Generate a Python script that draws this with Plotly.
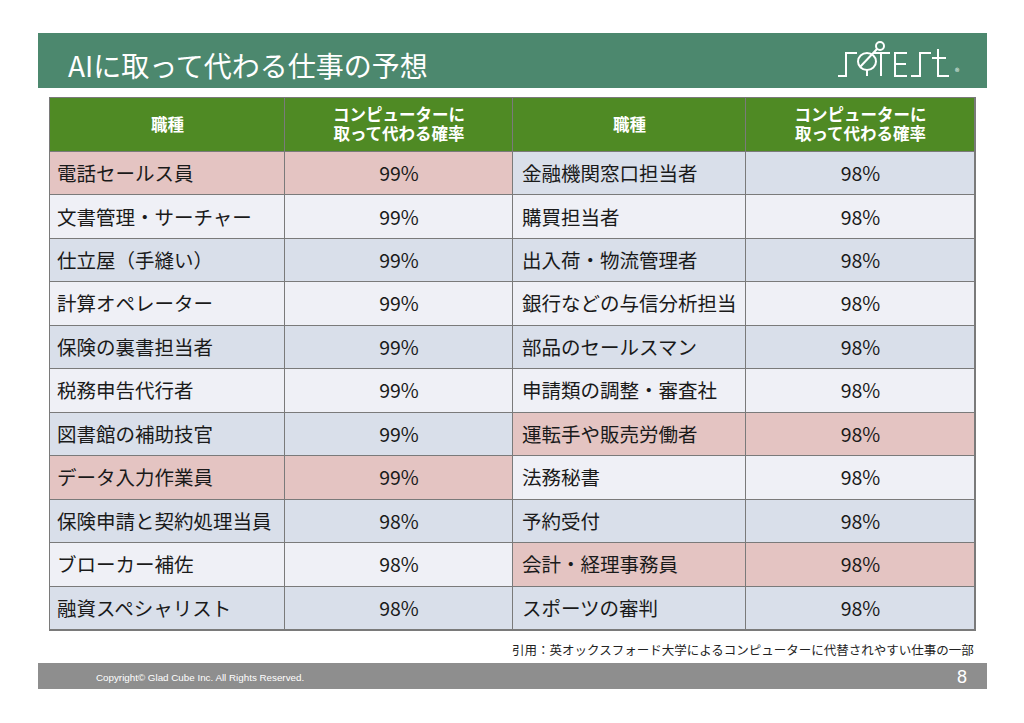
import plotly.graph_objects as go

# ---- data ----
title = "AIに取って代わる仕事の予想"
header_job = "職種"
header_prob_lines = ["コンピューターに", "取って代わる確率"]

left_jobs = ["電話セールス員", "文書管理・サーチャー", "仕立屋（手縫い）", "計算オペレーター",
             "保険の裏書担当者", "税務申告代行者", "図書館の補助技官", "データ入力作業員",
             "保険申請と契約処理当員", "ブローカー補佐", "融資スペシャリスト"]
left_prob = [99, 99, 99, 99, 99, 99, 99, 99, 98, 98, 98]
left_highlight = [1, 0, 0, 0, 0, 0, 0, 1, 0, 0, 0]

right_jobs = ["金融機関窓口担当者", "購買担当者", "出入荷・物流管理者", "銀行などの与信分析担当",
              "部品のセールスマン", "申請類の調整・審査社", "運転手や販売労働者", "法務秘書",
              "予約受付", "会計・経理事務員", "スポーツの審判"]
right_prob = [98, 98, 98, 98, 98, 98, 98, 98, 98, 98, 98]
right_highlight = [0, 0, 0, 0, 0, 0, 1, 0, 0, 1, 0]

citation = "引用：英オックスフォード大学によるコンピューターに代替されやすい仕事の一部"
copyright_text = "Copyright© Glad Cube Inc. All Rights Reserved."
page_no = "8"

# ---- layout / styles ----
W, H = 1024, 723
FONT = "Noto Sans CJK JP"
BAND = "#4c886e"
HEAD = "#4f8a24"
BLUE = "#d9dfea"
LIGHT = "#eff0f6"
PINK = "#e4c4c2"
BORDER = "#7a7a7a"
TEXT = "#1a1a1a"
TEXT_DY = 2.5          # small downward nudge so glyphs sit centred in cells

col_edges = [50, 285, 513, 746, 975]
tbl_top, head_h, tbl_bot = 98, 54, 630
n_rows = len(left_jobs)
row_h = (tbl_bot - tbl_top - head_h) / n_rows
row_edges = [tbl_top, tbl_top + head_h] + [tbl_top + head_h + row_h * (i + 1) for i in range(n_rows)]
row_mid = [(row_edges[i] + row_edges[i + 1]) / 2 for i in range(len(row_edges) - 1)]
col_mid = [(col_edges[i] + col_edges[i + 1]) / 2 for i in range(4)]
body_y = [y + TEXT_DY for y in row_mid[1:]]


def px(x):
    return x / W


def py(y):
    return 1 - y / H


def codes(hl):
    # 1 = blue-grey, 2 = light, 3 = highlighted pink
    return [3 if h else (1 if i % 2 == 0 else 2) for i, h in enumerate(hl)]


lc, rc = codes(left_highlight), codes(right_highlight)
z = [[0, 0, 0, 0]] + [[lc[i], lc[i], rc[i], rc[i]] for i in range(n_rows)]

colorscale = [[0, HEAD], [0.25, HEAD], [0.25, BLUE], [0.5, BLUE],
              [0.5, LIGHT], [0.75, LIGHT], [0.75, PINK], [1, PINK]]

fig = go.Figure()

fig.add_trace(go.Heatmap(
    x=col_edges, y=row_edges, z=z, zmin=0, zmax=3, colorscale=colorscale,
    showscale=False, xgap=1, ygap=1, hoverinfo="skip",
))

# header texts
hy = row_mid[0]
fig.add_trace(go.Scatter(
    x=[col_mid[0], col_mid[2], col_mid[1], col_mid[3], col_mid[1], col_mid[3]],
    y=[hy + 1.5, hy + 1.5, hy - 8, hy - 8, hy + 11, hy + 11],
    mode="text",
    text=[f"<b>{header_job}</b>"] * 2
         + [f"<b>{header_prob_lines[0]}</b>"] * 2
         + [f"<b>{header_prob_lines[1]}</b>"] * 2,
    textposition="middle center",
    textfont=dict(family=FONT, size=16.5, color="white"), hoverinfo="skip",
))
# job names (left aligned)
fig.add_trace(go.Scatter(
    x=[col_edges[0] + 7] * n_rows + [col_edges[2] + 9] * n_rows,
    y=body_y * 2, mode="text",
    text=left_jobs + right_jobs, textposition="middle right",
    textfont=dict(family=FONT, size=19.5, color=TEXT), hoverinfo="skip",
))
# probabilities (centered)
fig.add_trace(go.Scatter(
    x=[col_mid[1]] * n_rows + [col_mid[3]] * n_rows,
    y=body_y * 2, mode="text",
    text=[f"{v}%" for v in left_prob] + [f"{v}%" for v in right_prob],
    textposition="middle center",
    textfont=dict(family=FONT, size=19.5, color=TEXT), hoverinfo="skip",
))

fig.update_layout(
    width=W, height=H, margin=dict(l=0, r=0, t=0, b=0),
    paper_bgcolor="white", plot_bgcolor=BORDER, showlegend=False,
    xaxis=dict(range=[col_edges[0], col_edges[-1]], domain=[px(col_edges[0]), px(col_edges[-1])],
               showgrid=False, zeroline=False, showticklabels=False, ticks="",
               showline=True, mirror=True, linecolor=BORDER, linewidth=1, fixedrange=True),
    yaxis=dict(range=[tbl_bot, tbl_top], domain=[py(tbl_bot), py(tbl_top)],
               showgrid=False, zeroline=False, showticklabels=False, ticks="",
               showline=True, mirror=True, linecolor=BORDER, linewidth=1, fixedrange=True),
)

shapes = []
# title band and footer band
shapes.append(dict(type="rect", xref="paper", yref="paper", x0=px(38), x1=px(987),
                   y0=py(88), y1=py(33), fillcolor=BAND, line_width=0, layer="below"))
shapes.append(dict(type="rect", xref="paper", yref="paper", x0=px(38), x1=px(987),
                   y0=py(689), y1=py(663), fillcolor="#8e8e8e", line_width=0, layer="below"))

# logo (approximate line drawing, pixel polylines)
logo_lines = [
    [(838, 76), (846, 76), (846, 53), (857, 53)],
    [(867, 69), (867, 76)],
    [(860, 67), (877, 49)],
    [(873, 53), (890, 53)], [(881, 53), (881, 76)],
    [(907, 53), (895, 53), (895, 76), (907, 76)], [(895, 64), (906, 64)],
    [(911, 76), (920, 76), (920, 53), (931, 53)],
    [(938, 49), (938, 76), (949, 76)], [(932, 58), (946, 58)],
]
lw = dict(color="white", width=2)
for pts in logo_lines:
    path = "M " + " L ".join(f"{px(a):.5f} {py(b):.5f}" for a, b in pts)
    shapes.append(dict(type="path", xref="paper", yref="paper", path=path, line=lw, layer="above"))
shapes.append(dict(type="circle", xref="paper", yref="paper", x0=px(858), x1=px(876),
                   y0=py(70), y1=py(53), line=lw, layer="above"))
shapes.append(dict(type="circle", xref="paper", yref="paper", x0=px(876), x1=px(884),
                   y0=py(50), y1=py(42), line=lw, layer="above"))
fig.update_layout(shapes=shapes)

annotations = [
    dict(x=px(66), y=py(65), text=title, showarrow=False, xanchor="left", yanchor="middle",
         font=dict(family=FONT, size=28, color="white")),
    dict(x=px(957), y=py(72), text="®", showarrow=False, xanchor="center", yanchor="middle",
         font=dict(family=FONT, size=9, color="white")),
    dict(x=px(976), y=py(649), text=citation, showarrow=False, xanchor="right", yanchor="middle",
         font=dict(family=FONT, size=12.5, color="#222222")),
    dict(x=px(94), y=py(677), text=copyright_text, showarrow=False, xanchor="left", yanchor="middle",
         font=dict(family="Liberation Sans Narrow, Liberation Sans", size=9.8, color="white")),
    dict(x=px(969), y=py(677), text=page_no, showarrow=False, xanchor="right", yanchor="middle",
         font=dict(family="Liberation Sans Narrow, Liberation Sans", size=18, color="white")),
]
for a in annotations:
    a.update(xref="paper", yref="paper")
fig.update_layout(annotations=annotations)

fig.write_html("out.html", config={"displayModeBar": False},
               post_script="document.body.style.margin='0';")
